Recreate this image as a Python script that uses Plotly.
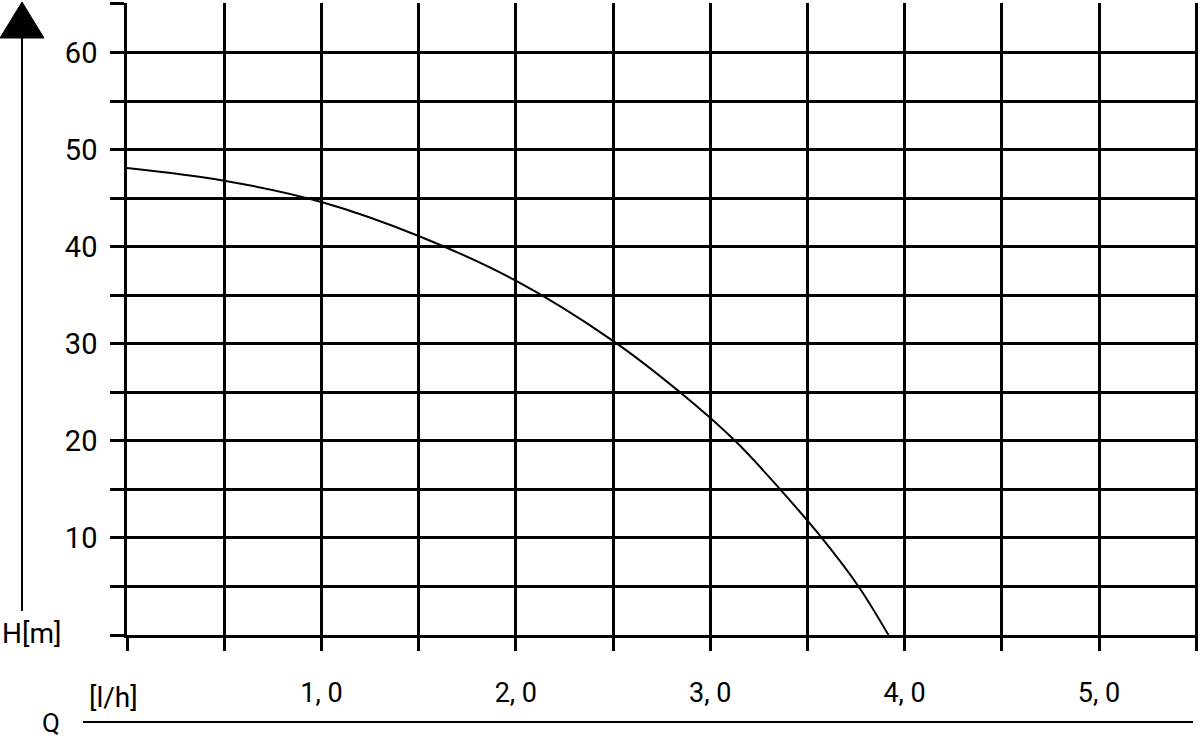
import plotly.graph_objs as go

# pump curve H(Q)
flowQ = [0, 0.5, 1.0, 1.5, 2.0, 2.5, 2.845, 3.128, 3.36, 3.574, 3.763, 3.917]
headH = [48.1, 46.8, 44.6, 41.1, 36.5, 30.3, 25.0, 20.0, 15.0, 10.0, 5.0, 0.0]

xTickVals = [0, 0.5, 1.0, 1.5, 2.0, 2.5, 3.0, 3.5, 4.0, 4.5, 5.0, 5.5]
xTickText = ["", "", "1, 0", "", "2, 0", "", "3, 0", "", "4, 0", "", "5, 0", ""]
yTickVals = [0, 5, 10, 15, 20, 25, 30, 35, 40, 45, 50, 55, 60, 65]
yTickText = ["", "", "10", "", "20", "", "30", "", "40", "", "50", "", "60", ""]

FONT = "Liberation Sans Narrow, Roboto, Liberation Sans, sans-serif"

W, H = 1200, 741
L, R, T, B = 127, 2, 3, 106
plotW = W - L - R
plotH = H - T - B


def px(x, y):
    # pixel position -> paper coordinates
    return (x - L) / plotW, (H - B - y) / plotH


def label(text, x, y, size=28, anchor="center"):
    ax, ay = px(x, y)
    return dict(text=text, x=ax, y=ay, xref="paper", yref="paper", showarrow=False,
                xanchor=anchor, yanchor="middle", font=dict(family=FONT, size=size, color="black"))


fig = go.Figure()
fig.add_trace(go.Scatter(x=flowQ, y=headH, mode="lines",
                         line=dict(color="black", width=2, shape="spline", smoothing=1.0),
                         hoverinfo="skip", showlegend=False))

axisCommon = dict(showgrid=True, gridcolor="black", gridwidth=2.5, zeroline=False, showline=True,
                  linecolor="black", linewidth=2.5, ticks="outside", tickcolor="black", tickwidth=2.5,
                  fixedrange=True)

fig.update_xaxes(range=[0, plotW / 194.4], tickmode="array", tickvals=xTickVals, ticktext=xTickText,
                 ticklen=13, ticklabelstandoff=19, tickfont=dict(family=FONT, size=27, color="black"),
                 **axisCommon)
fig.update_yaxes(range=[0, 65.0 + 0.1], tickmode="array", tickvals=yTickVals, ticktext=yTickText,
                 ticklen=14, ticklabelstandoff=7, tickfont=dict(family=FONT, size=29, color="black"),
                 **axisCommon)

# arrow for H axis, and the Q base line
x0, y0 = px(22, 611)
x1, y1 = px(22, 38)
ta, tb = px(22, 2)
tl, _ = px(0, 38)
tr, _ = px(44, 38)
q0, qy = px(83, 722)
q1, _ = px(1193, 722)

fig.update_layout(
    width=W, height=H,
    margin=dict(l=L, r=R, t=T, b=B),
    plot_bgcolor="white", paper_bgcolor="white",
    shapes=[
        dict(type="line", xref="paper", yref="paper", x0=x0, y0=y0, x1=x1, y1=y1,
             line=dict(color="black", width=2)),
        dict(type="path", xref="paper", yref="paper",
             path=f"M {tl} {y1} L {tr} {y1} L {ta} {tb} Z", fillcolor="black", line=dict(color="black", width=1)),
        dict(type="line", xref="paper", yref="paper", x0=q0, y0=qy, x1=q1, y1=qy,
             line=dict(color="black", width=2)),
    ],
    annotations=[
        label("H[m]", 0, 633, anchor="left"),
        label("[l/h]", 113, 697),
        label("Q", 51, 723, size=26),
    ],
)

# page body has a default margin; drop it so the figure sits at the window's corner
fig.write_html("out.html", config={"displayModeBar": False},
               post_script="document.body.style.margin='0';")
